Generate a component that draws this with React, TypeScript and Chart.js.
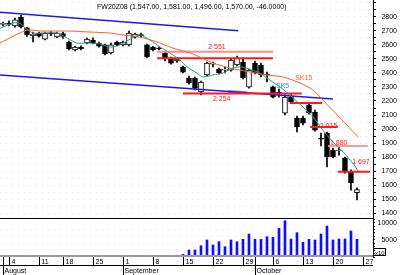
import React, { useEffect, useRef } from 'react';
import { Chart, registerables } from 'chart.js';

Chart.register(...registerables);

const TITLE = 'FW20Z08 (1,547.00, 1,581.00, 1,496.00, 1,570.00, -46.0000)';

// trading days Aug 1 .. Oct 24 2008 (index 0 .. 59)
const opens = [2745, 2750, 2734, 2798, 2720, 2665, 2684, 2641, 2680, 2656,
  2680, 2620, 2563, 2584, 2613, 2634, 2610, 2599, 2542, 2620,
  2599, 2599, 2655, 2670, 2599, 2584, 2577, 2542, 2506, 2485,
  2442, 2364, 2364, 2264, 2385, 2463, 2428, 2420, 2420, 2456,
  2477, 2299, 2470, 2456, 2392, 2300, 2264, 2114, 2228, 2079,
  2079, 2171, 2121, 1936, 1972, 1851, 1844, 1794, 1694, 1547];
const highs = [2762, 2770, 2790, 2810, 2725, 2690, 2690, 2690, 2695, 2690,
  2690, 2627, 2590, 2592, 2648, 2650, 2620, 2606, 2613, 2627,
  2627, 2698, 2684, 2684, 2606, 2590, 2584, 2549, 2513, 2510,
  2449, 2378, 2371, 2342, 2477, 2477, 2435, 2442, 2499, 2520,
  2506, 2428, 2484, 2470, 2406, 2307, 2285, 2243, 2243, 2093,
  2093, 2178, 2136, 1972, 1979, 1865, 1872, 1801, 1710, 1581];
const lows = [2735, 2735, 2725, 2720, 2660, 2620, 2655, 2634, 2665, 2650,
  2645, 2563, 2556, 2563, 2606, 2606, 2584, 2528, 2535, 2592,
  2592, 2592, 2648, 2655, 2506, 2556, 2563, 2485, 2463, 2475,
  2399, 2320, 2278, 2243, 2378, 2442, 2392, 2399, 2413, 2449,
  2357, 2292, 2392, 2371, 2335, 2221, 2228, 2100, 2186, 1980,
  2030, 2107, 1986, 1880, 1730, 1794, 1815, 1687, 1566, 1496];
const closes = [2750, 2745, 2777, 2727, 2670, 2677, 2662, 2684, 2677, 2684,
  2660, 2570, 2584, 2570, 2641, 2613, 2590, 2535, 2599, 2599,
  2620, 2684, 2677, 2665, 2513, 2563, 2570, 2506, 2470, 2499,
  2406, 2328, 2292, 2335, 2470, 2466, 2399, 2424, 2492, 2506,
  2364, 2420, 2399, 2385, 2385, 2228, 2250, 2228, 2193, 2015,
  2043, 2114, 1993, 1929, 1801, 1801, 1851, 1694, 1616, 1570];
const volumes = [150, 100, 200, 150, 250, 150, 100, 200, 150, 250,
  300, 200, 150, 200, 300, 250, 200, 300, 250, 350,
  300, 250, 300, 200, 350, 400, 300, 400, 450, 500,
  800, 2040, 2040, 3300, 4960, 3500, 4460, 3000, 4960, 4460,
  5160, 6700, 5160, 5160, 5920, 5740, 8370, 10580, 5250, 7090,
  4290, 5160, 4960, 6700, 9040, 4960, 5250, 5250, 7580, 5160];

const weekTickIdx = [1, 6, 10, 15, 20, 25, 30, 35, 40, 45, 50, 55, 60];
const weekTickLabels = ['4', '11', '18', '25', '1', '8', '15', '22', '29', '6', '13', '20', '27'];
const monthIdx = [0, 20, 42];
const monthLabels = ['August', 'September', 'October'];

const sk5Idx = [-0.5, 1.7, 2.8, 3.7, 5, 6.7, 9, 10.7, 12.3, 14, 16.2, 17.8, 19.5, 21.2, 22.8, 24.5, 26.2, 27.8, 29.5, 30.7, 32.3, 33.3, 35, 36.7, 38.3, 39.8, 41.5, 42.8, 44.5, 46.2, 47.8, 50, 51.7, 53.3, 55, 56.7, 58.3, 59.2];
const sk5Val = [2717, 2755, 2755, 2720, 2684, 2684, 2684, 2648, 2613, 2613, 2606, 2584, 2599, 2641, 2670, 2634, 2584, 2542, 2492, 2442, 2399, 2371, 2385, 2399, 2435, 2442, 2420, 2399, 2349, 2299, 2243, 2157, 2086, 1993, 1908, 1837, 1758, 1701];
const sk15Idx = [-0.5, 4, 6.2, 10.7, 14.5, 17.8, 20, 22.8, 25.7, 28.3, 31.2, 32.8, 35, 37.8, 41.2, 44, 46.7, 49.5, 51.7, 53.3, 56.2, 59.2];
const sk15Val = [2613, 2705, 2698, 2698, 2691, 2684, 2670, 2655, 2620, 2577, 2542, 2513, 2470, 2435, 2406, 2385, 2371, 2328, 2278, 2207, 2079, 1944];

const upperChannelIdx = [-0.5, 39.2];
const upperChannelVal = [2831, 2700];
const lowerChannelIdx = [-0.5, 55];
const lowerChannelVal = [2385, 2214];
const channelHighlightIdx = [37.5, 40.7];
const channelHighlightVal = [2268, 2258];

const levelVals = [2551, 2504, 2254, 2186, 2015, 1880, 1697];
const levelFrom = [25.7, 25.7, 30, 47.8, 51.2, 54.2, 55.8];
const levelTo = [45, 45, 49.8, 53.2, 55.8, 60.8, 61.2];
const levelColors = ['#ff8c8c', '#ff1a1a', '#ff1a1a', '#ff1a1a', '#ff1a1a', '#ff9a9a', '#ff1a1a'];

const noteTexts = ['2 551', '2 254', '2 015', '1 880', '1 697', 'SK5', 'SK15'];
const noteIdx = [34.2, 35, 52.8, 54.5, 58.2, 45.5, 48.7];
const noteVal = [2570, 2203, 2011, 1890, 1748, 2292, 2346];
const noteColors = ['#ff1a1a', '#ff1a1a', '#ff1a1a', '#ff1a1a', '#ff1a1a', '#2a9a92', '#ff6020'];

const priceTicks: number[] = [];
for (let v = 1400; v <= 2900; v += 50) priceTicks.push(v);
const volTicks: number[] = [];
for (let v = 0; v <= 11000; v += 1000) volTicks.push(v);

const FONT = '"Liberation Sans", Arial, sans-serif';

const fitAxis = (s: any) => {
  s.width = 24;
  s.paddingTop = 0;
  s.paddingBottom = 0;
  s.paddingLeft = 0;
  s.paddingRight = 0;
};

const decorPlugin = {
  id: 'decor',
  afterDraw(chart: any) {
    const { ctx, chartArea, scales } = chart;
    const xs = scales.x;
    const ys = scales.y;
    const right = Math.round(chartArea.right);
    const sepY = Math.round(ys.bottom) + 0.5;
    const baseY = Math.round(chartArea.bottom);
    ctx.save();
    ctx.strokeStyle = '#000';
    ctx.lineWidth = 1;
    ctx.beginPath();
    ctx.moveTo(0, sepY);
    ctx.lineTo(right, sepY);
    ctx.stroke();
    ctx.strokeStyle = '#9a9a9a';
    ctx.lineWidth = 2;
    ctx.beginPath();
    ctx.moveTo(0, baseY - 1);
    ctx.lineTo(right, baseY - 1);
    ctx.stroke();
    const row1 = baseY + 9;
    ctx.strokeStyle = '#000';
    ctx.lineWidth = 1;
    ctx.beginPath();
    ctx.moveTo(0, row1 - 0.5);
    ctx.lineTo(right, row1 - 0.5);
    ctx.stroke();
    ctx.font = '7px ' + FONT;
    ctx.fillStyle = '#000';
    ctx.textAlign = 'left';
    ctx.textBaseline = 'alphabetic';
    weekTickIdx.forEach((d, k) => {
      const px = Math.round(xs.getPixelForValue(d)) + 0.5;
      ctx.beginPath();
      ctx.moveTo(px, baseY);
      ctx.lineTo(px, row1);
      ctx.stroke();
      ctx.fillText(weekTickLabels[k], px + 2, baseY + 7);
    });
    monthIdx.forEach((d, k) => {
      const px = Math.round(xs.getPixelForValue(d)) + 0.5;
      ctx.beginPath();
      ctx.moveTo(px, baseY);
      ctx.lineTo(px, chart.height);
      ctx.stroke();
      ctx.fillText(monthLabels[k], px + 1, row1 + 7);
    });
    ctx.fillText(TITLE, 97, 9);
    noteTexts.forEach((t, k) => {
      ctx.fillStyle = noteColors[k];
      ctx.fillText(t, xs.getPixelForValue(noteIdx[k]), ys.getPixelForValue(noteVal[k]));
    });
    ctx.fillStyle = '#000';
    ctx.font = '6px ' + FONT;
    ctx.fillText('x10', right + 2, baseY - 2);
    ctx.strokeRect(right + 0.5, baseY - 8.5, 12, 7);
    ctx.restore();
  },
};

export default function App() {
  const ref = useRef<HTMLCanvasElement | null>(null);
  useEffect(() => {
    if (!ref.current) return;
    const idx = opens.map((_, i) => i);
    const levelSets = levelVals.map((v, k) => ({
      type: 'line' as const,
      data: [{ x: levelFrom[k], y: v }, { x: levelTo[k], y: v }],
      borderColor: levelColors[k],
      borderWidth: 2,
      pointRadius: 0,
      yAxisID: 'y',
      order: 2,
    }));
    const chart = new Chart(ref.current, {
      type: 'bar',
      data: {
        datasets: [
          {
            type: 'line',
            label: 'SK5',
            data: sk5Idx.map((x, i) => ({ x, y: sk5Val[i] })),
            borderColor: '#2a9a92',
            borderWidth: 1,
            pointRadius: 0,
            tension: 0.25,
            yAxisID: 'y',
            order: 1,
          },
          {
            type: 'line',
            label: 'SK15',
            data: sk15Idx.map((x, i) => ({ x, y: sk15Val[i] })),
            borderColor: '#ff6020',
            borderWidth: 1,
            pointRadius: 0,
            tension: 0.25,
            yAxisID: 'y',
            order: 1,
          },
          ...levelSets,
          {
            type: 'line',
            data: upperChannelIdx.map((x, i) => ({ x, y: upperChannelVal[i] })),
            borderColor: '#1a1aee',
            borderWidth: 1.5,
            pointRadius: 0,
            yAxisID: 'y',
            order: 3,
          },
          {
            type: 'line',
            data: lowerChannelIdx.map((x, i) => ({ x, y: lowerChannelVal[i] })),
            borderColor: '#1a1aee',
            borderWidth: 1.5,
            pointRadius: 0,
            yAxisID: 'y',
            order: 3,
          },
          {
            type: 'line',
            data: channelHighlightIdx.map((x, i) => ({ x, y: channelHighlightVal[i] })),
            borderColor: '#8c8cff',
            borderWidth: 3,
            pointRadius: 0,
            yAxisID: 'y',
            order: 3,
          },
          {
            type: 'bar',
            label: 'body',
            data: idx.map((i) => ({ x: i, y: [opens[i], closes[i]] })) as any,
            backgroundColor: idx.map((i) => (closes[i] >= opens[i] ? '#ffffff' : '#000000')),
            borderColor: '#000',
            borderWidth: 1,
            borderSkipped: false,
            barThickness: 5,
            minBarLength: 1,
            grouped: false,
            yAxisID: 'y',
            order: 4,
          },
          {
            type: 'bar',
            label: 'wick',
            data: idx.map((i) => ({ x: i, y: [lows[i], highs[i]] })) as any,
            backgroundColor: '#000',
            barThickness: 1,
            grouped: false,
            yAxisID: 'y',
            order: 5,
          },
          {
            type: 'bar',
            label: 'volume',
            data: idx.map((i) => ({ x: i, y: volumes[i] })) as any,
            backgroundColor: '#1010ff',
            barThickness: 2,
            grouped: false,
            yAxisID: 'v',
            order: 6,
          },
        ] as any,
      },
      options: {
        animation: false,
        responsive: false,
        devicePixelRatio: 1,
        layout: { padding: { left: 0, top: 0, right: 3, bottom: 18 } },
        plugins: { legend: { display: false }, tooltip: { enabled: false } },
        scales: {
          x: { type: 'linear', min: -0.5, max: 61.67, offset: false, display: false },
          y: {
            type: 'linear',
            position: 'right',
            stack: 'main',
            stackWeight: 218,
            min: 1367,
            max: 2919,
            afterBuildTicks: (s: any) => {
              s.ticks = priceTicks.map((value) => ({ value }));
            },
            afterFit: fitAxis,
            ticks: {
              autoSkip: false,
              crossAlign: 'far',
              padding: 1,
              color: '#000',
              font: { family: FONT, size: 7 },
              callback: (v: any) => (v % 100 === 0 && v >= 1400 && v <= 2800 ? String(v) : ''),
            },
            grid: { color: '#e2e2e2', tickColor: '#000', tickLength: 3, lineWidth: 1 },
            border: { display: true, color: '#000', dash: [1, 5] },
          },
          v: {
            type: 'linear',
            position: 'right',
            stack: 'main',
            stackWeight: 39,
            min: 0,
            max: 11370,
            afterBuildTicks: (s: any) => {
              s.ticks = volTicks.map((value) => ({ value }));
            },
            afterFit: fitAxis,
            ticks: {
              autoSkip: false,
              crossAlign: 'far',
              padding: 1,
              color: '#000',
              font: { family: FONT, size: 7 },
              callback: (v: any) => (v === 5000 || v === 10000 ? String(v) : ''),
            },
            grid: {
              color: (c: any) => (c.tick && c.tick.value % 2000 === 0 && c.tick.value > 0 ? '#e2e2e2' : 'rgba(0,0,0,0)'),
              tickColor: '#000',
              tickLength: 2,
              lineWidth: 1,
            },
            border: { display: true, color: '#000', dash: [1, 5] },
          },
        } as any,
      },
      plugins: [decorPlugin],
    });
    return () => chart.destroy();
  }, []);
  return (
    <div style={{ position: 'absolute', left: 0, top: 0, width: 400, height: 275, background: '#fff' }}>
      <canvas ref={ref} width={400} height={275} />
    </div>
  );
}
